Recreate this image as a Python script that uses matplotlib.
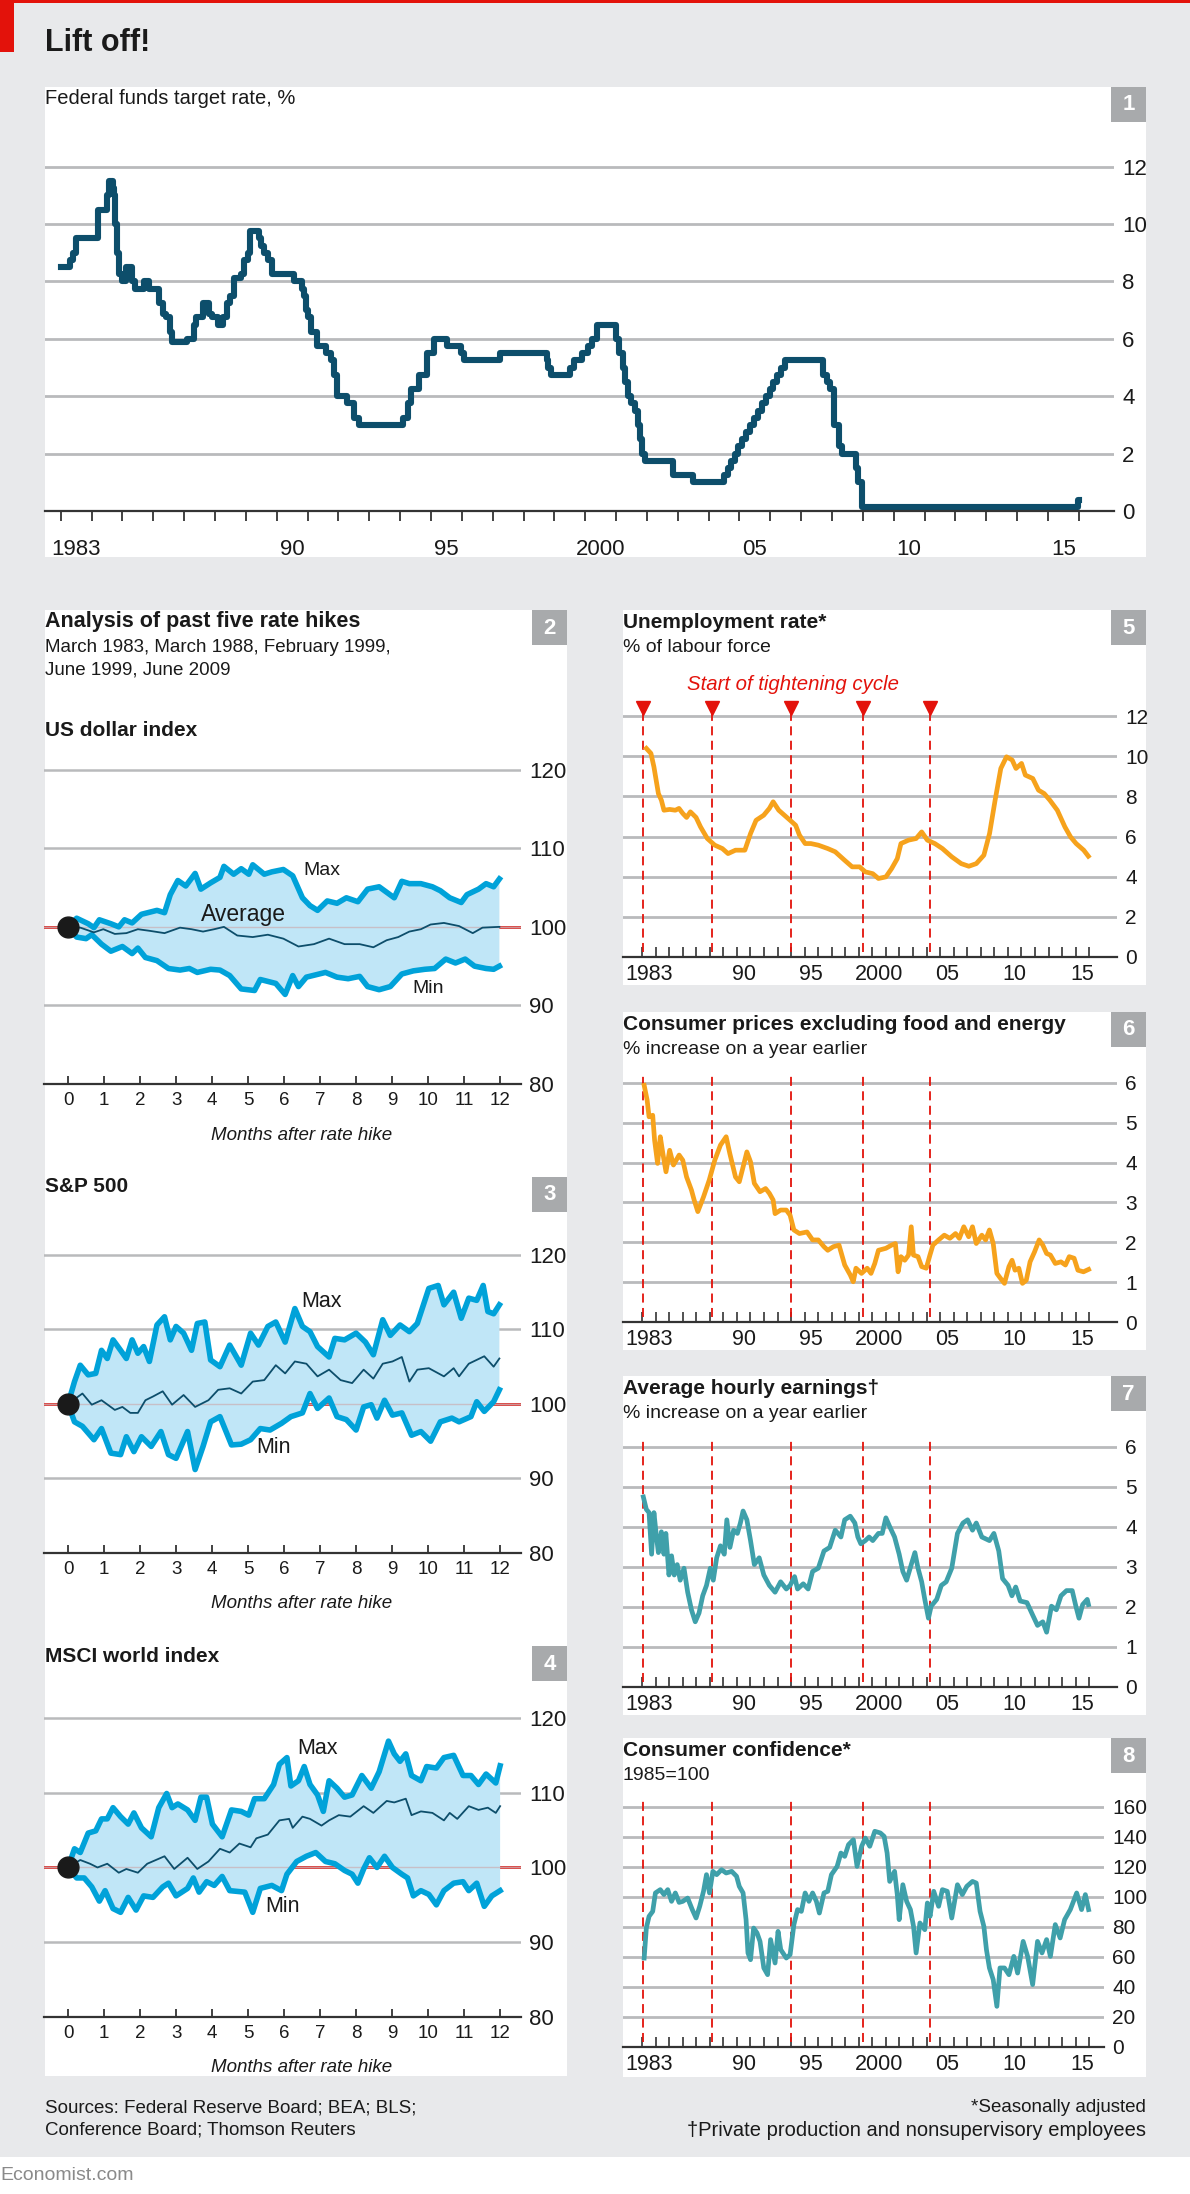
import matplotlib
matplotlib.use("Agg")
import matplotlib.pyplot as plt
from matplotlib.patches import Rectangle
import numpy as np

plt.rcParams['font.family'] = ['Liberation Sans', 'DejaVu Sans']

# ---------------- data ----------------
# panel 1: federal funds target rate, step changes (decimal year, %)
ff_year = [1983.00, 1983.30, 1983.40, 1983.50, 1984.20, 1984.50, 1984.58, 1984.68, 1984.72, 1984.76,
           1984.82, 1984.90, 1984.97, 1985.10, 1985.30, 1985.42, 1985.70, 1985.85, 1986.18, 1986.30,
           1986.40, 1986.55, 1986.62, 1987.10, 1987.33, 1987.40, 1987.60, 1987.80, 1987.90, 1988.10,
           1988.25, 1988.40, 1988.50, 1988.62, 1988.85, 1988.95, 1989.08, 1989.15, 1989.42, 1989.50,
           1989.60, 1989.72, 1989.85, 1990.55, 1990.82, 1990.88, 1990.95, 1991.02, 1991.10, 1991.30,
           1991.60, 1991.75, 1991.85, 1991.95, 1992.28, 1992.50, 1992.68, 1994.08, 1994.25, 1994.35,
           1994.62, 1994.88, 1995.10, 1995.52, 1995.97, 1996.08, 1997.23, 1998.75, 1998.80, 1998.88,
           1999.50, 1999.65, 1999.88, 2000.08, 2000.22, 2000.38, 2001.00, 2001.08, 2001.22, 2001.30,
           2001.38, 2001.48, 2001.60, 2001.70, 2001.78, 2001.85, 2001.95, 2002.85, 2003.48, 2004.50,
           2004.62, 2004.72, 2004.85, 2004.95, 2005.08, 2005.22, 2005.35, 2005.48, 2005.60, 2005.72,
           2005.85, 2005.98, 2006.08, 2006.22, 2006.35, 2006.48, 2007.72, 2007.83, 2007.95, 2008.05,
           2008.08, 2008.22, 2008.33, 2008.77, 2008.83, 2008.96, 2015.96, 2016.00]
ff_rate = [8.50, 8.75, 9.00, 9.50, 10.50, 11.00, 11.50, 11.25, 11.00, 10.00,
           9.00, 8.25, 8.00, 8.50, 8.00, 7.75, 8.00, 7.75, 7.25, 6.875,
           6.75, 6.25, 5.875, 6.00, 6.50, 6.75, 7.25, 6.875, 6.75, 6.50,
           6.75, 7.25, 7.50, 8.125, 8.25, 8.75, 9.00, 9.75, 9.50, 9.25,
           9.00, 8.75, 8.25, 8.00, 7.75, 7.50, 7.00, 6.75, 6.25, 5.75,
           5.50, 5.25, 4.75, 4.00, 3.75, 3.25, 3.00, 3.25, 3.75, 4.25,
           4.75, 5.50, 6.00, 5.75, 5.50, 5.25, 5.50, 5.25, 5.00, 4.75,
           5.00, 5.25, 5.50, 5.75, 6.00, 6.50, 6.00, 5.50, 5.00, 4.50,
           4.00, 3.75, 3.50, 3.00, 2.50, 2.00, 1.75, 1.25, 1.00, 1.25,
           1.50, 1.75, 2.00, 2.25, 2.50, 2.75, 3.00, 3.25, 3.50, 3.75,
           4.00, 4.25, 4.50, 4.75, 5.00, 5.25, 4.75, 4.50, 4.25, 3.50,
           3.00, 2.25, 2.00, 1.50, 1.00, 0.125, 0.375, 0.375]
ff_labels = ["1983", "90", "95", "2000", "05", "10", "15"]
ff_label_years = [1983, 1990, 1995, 2000, 2005, 2010, 2015]

# panels 2-4: months after rate hike, max / min / average of five episodes
usd_max_m = [0.00, 0.24, 0.56, 0.72, 0.87, 1.19, 1.41, 1.57, 1.78, 2.04, 2.47, 2.68, 2.84, 3.05, 3.27,
             3.53, 3.69, 3.96, 4.22, 4.33, 4.60, 4.81, 5.02, 5.13, 5.45, 5.66, 5.98, 6.24, 6.51, 6.72,
             6.93, 7.20, 7.47, 7.73, 8.05, 8.32, 8.64, 8.85, 9.06, 9.27, 9.48, 9.80, 10.12, 10.34,
             10.60, 10.92, 11.08, 11.40, 11.61, 11.82, 11.98]
usd_max_v = [100.0, 101.1, 100.4, 99.9, 100.9, 100.4, 100.0, 100.9, 100.5, 101.6, 102.1, 101.8, 104.1,
             105.9, 105.2, 106.8, 104.8, 105.6, 106.3, 107.7, 106.7, 107.4, 106.7, 107.9, 106.7, 107.0,
             107.3, 106.5, 103.7, 102.7, 102.1, 103.3, 103.0, 103.7, 103.2, 104.8, 105.1, 104.4, 103.7,
             105.8, 105.5, 105.5, 105.1, 104.6, 103.7, 103.1, 104.1, 104.8, 105.5, 105.1, 106.1]
usd_min_m = [0.00, 0.24, 0.50, 0.66, 0.93, 1.19, 1.51, 1.78, 1.94, 2.15, 2.47, 2.79, 3.11, 3.37, 3.59,
             3.96, 4.22, 4.49, 4.81, 5.18, 5.34, 5.77, 6.03, 6.24, 6.40, 6.62, 7.15, 7.47, 7.78, 8.10,
             8.32, 8.64, 8.95, 9.27, 9.59, 9.91, 10.18, 10.49, 10.76, 11.03, 11.29, 11.61, 11.82, 11.98]
usd_min_v = [100.0, 98.7, 98.5, 99.0, 97.8, 96.9, 97.5, 96.6, 97.3, 96.1, 95.7, 94.7, 94.5, 94.7, 94.2,
             94.6, 94.5, 93.8, 92.1, 91.9, 93.3, 92.8, 91.4, 93.8, 92.4, 93.6, 94.2, 93.6, 93.4, 93.7,
             92.4, 92.0, 92.4, 94.0, 94.4, 94.6, 94.7, 95.9, 95.4, 95.9, 95.0, 94.7, 94.6, 95.0]
usd_avg_m = [0.00, 0.34, 0.72, 0.98, 1.30, 1.62, 1.94, 2.26, 2.68, 3.11, 3.43, 3.75, 4.06, 4.33, 4.70,
             5.13, 5.55, 5.98, 6.40, 6.83, 7.25, 7.68, 8.10, 8.48, 8.85, 9.17, 9.48, 9.80, 10.07, 10.44,
             10.86, 11.24, 11.51, 11.98]
usd_avg_v = [100.0, 99.9, 99.3, 99.7, 99.1, 99.2, 99.7, 99.5, 99.2, 99.9, 99.7, 99.4, 99.7, 100.0, 98.9,
             98.7, 99.0, 98.5, 97.5, 97.8, 98.5, 97.8, 97.8, 97.4, 98.3, 98.7, 99.4, 99.7, 100.3, 100.5,
             100.1, 99.2, 99.9, 100.0]

spx_max_m = [0.00, 0.18, 0.34, 0.56, 0.77, 0.93, 1.09, 1.25, 1.46, 1.62, 1.78, 1.94, 2.10, 2.26, 2.47,
             2.68, 2.84, 3.00, 3.21, 3.43, 3.59, 3.80, 3.96, 4.22, 4.49, 4.81, 5.07, 5.29, 5.55, 5.77,
             6.03, 6.30, 6.51, 6.72, 6.93, 7.25, 7.41, 7.68, 8.00, 8.26, 8.48, 8.74, 8.95, 9.22, 9.48,
             9.70, 10.02, 10.28, 10.44, 10.71, 10.92, 11.13, 11.35, 11.53, 11.66, 11.82, 11.98]
spx_max_v = [100.0, 103.0, 105.2, 103.9, 104.1, 107.2, 106.1, 108.6, 107.2, 106.1, 108.6, 106.8, 107.7,
             105.7, 110.6, 111.7, 108.6, 110.4, 109.5, 107.2, 110.8, 111.0, 105.9, 105.0, 107.9, 105.2,
             109.5, 107.9, 110.4, 111.0, 108.3, 112.8, 110.4, 109.7, 107.7, 106.3, 108.8, 108.6, 109.5,
             108.3, 106.6, 111.3, 109.2, 110.6, 109.7, 110.8, 115.5, 115.9, 113.3, 115.0, 111.5, 114.2,
             113.9, 115.9, 112.4, 112.1, 113.3]
spx_min_m = [0.00, 0.18, 0.40, 0.72, 0.93, 1.19, 1.46, 1.62, 1.83, 2.04, 2.31, 2.58, 2.79, 3.00, 3.16,
             3.32, 3.53, 3.75, 3.96, 4.22, 4.54, 4.81, 5.07, 5.34, 5.61, 5.93, 6.19, 6.51, 6.72, 6.93,
             7.25, 7.47, 7.73, 8.00, 8.21, 8.42, 8.58, 8.79, 9.01, 9.27, 9.54, 9.80, 10.07, 10.34, 10.66,
             10.86, 11.19, 11.35, 11.56, 11.82, 11.98]
spx_min_v = [100.0, 97.6, 97.0, 95.2, 96.7, 93.4, 93.2, 95.6, 93.6, 95.6, 94.3, 96.3, 93.2, 92.7, 94.5,
             96.3, 91.2, 94.3, 97.6, 98.3, 94.5, 94.6, 95.2, 96.7, 96.5, 97.4, 98.3, 98.8, 101.4, 99.4,
             100.8, 98.3, 97.9, 96.5, 99.6, 99.9, 98.1, 100.5, 98.5, 98.8, 95.8, 96.3, 95.0, 97.6, 98.1,
             97.6, 98.3, 100.3, 99.0, 100.3, 101.9]
spx_avg_m = [0.00, 0.40, 0.66, 0.93, 1.30, 1.51, 1.73, 1.94, 2.15, 2.36, 2.63, 2.89, 3.21, 3.53, 3.90,
             4.17, 4.49, 4.81, 5.13, 5.45, 5.77, 6.03, 6.30, 6.62, 6.93, 7.25, 7.57, 7.89, 8.21, 8.48,
             8.74, 9.01, 9.27, 9.48, 9.70, 10.02, 10.44, 10.71, 10.86, 11.13, 11.56, 11.82, 11.98]
spx_avg_v = [100.0, 101.4, 99.9, 100.5, 99.2, 99.6, 98.8, 98.8, 100.5, 101.0, 101.7, 99.9, 101.2, 99.6,
             100.5, 101.9, 102.1, 101.4, 103.0, 103.2, 105.2, 104.1, 105.7, 105.4, 103.7, 104.6, 103.2,
             102.8, 104.6, 103.4, 105.4, 105.7, 106.3, 103.0, 104.6, 104.8, 103.7, 104.8, 103.7, 105.4,
             106.4, 105.0, 106.1]

msci_max_m = [0.00, 0.18, 0.34, 0.56, 0.77, 0.93, 1.09, 1.25, 1.46, 1.67, 1.83, 2.04, 2.31, 2.52, 2.74,
              2.89, 3.05, 3.32, 3.53, 3.69, 3.85, 4.01, 4.28, 4.54, 4.81, 5.02, 5.18, 5.45, 5.71, 5.87,
              6.08, 6.19, 6.40, 6.56, 6.72, 6.93, 7.09, 7.25, 7.47, 7.68, 7.89, 8.16, 8.42, 8.64, 8.90,
              9.06, 9.22, 9.38, 9.54, 9.80, 9.96, 10.23, 10.44, 10.71, 10.97, 11.19, 11.40, 11.61, 11.88,
              12.00]
msci_max_v = [100.0, 102.5, 102.0, 104.6, 104.9, 106.5, 106.5, 108.0, 106.8, 105.8, 107.3, 105.3, 104.1,
              108.0, 109.9, 108.0, 108.5, 107.7, 106.3, 109.4, 109.4, 105.8, 104.1, 107.7, 107.5, 107.0,
              109.2, 109.2, 111.1, 113.8, 114.7, 110.9, 111.6, 113.5, 111.1, 109.7, 107.5, 111.6, 110.6,
              109.4, 109.7, 112.3, 110.6, 112.8, 116.9, 115.2, 114.2, 115.2, 112.3, 111.6, 113.5, 113.3,
              114.7, 115.0, 112.3, 112.3, 111.1, 112.5, 111.3, 113.6]
msci_min_m = [0.00, 0.24, 0.45, 0.66, 0.87, 1.03, 1.25, 1.46, 1.67, 1.89, 2.10, 2.36, 2.63, 2.79, 3.00,
              3.32, 3.48, 3.64, 3.85, 4.06, 4.28, 4.49, 4.91, 5.13, 5.34, 5.66, 5.93, 6.08, 6.35, 6.62,
              6.88, 7.15, 7.41, 7.68, 7.89, 8.05, 8.21, 8.37, 8.58, 8.79, 9.01, 9.27, 9.43, 9.59, 9.80,
              10.02, 10.23, 10.44, 10.71, 10.97, 11.13, 11.35, 11.56, 11.77, 12.00]
msci_min_v = [100.0, 98.6, 98.6, 97.4, 95.5, 96.9, 94.5, 94.0, 96.0, 94.3, 96.2, 96.0, 97.4, 97.9, 96.2,
              97.2, 98.6, 96.7, 98.1, 97.6, 98.8, 96.9, 96.7, 94.0, 97.2, 97.6, 96.9, 99.1, 100.8, 101.5,
              102.0, 100.8, 100.5, 99.6, 99.1, 97.9, 99.8, 101.3, 100.0, 101.5, 100.0, 99.1, 98.6, 96.2,
              96.9, 96.4, 95.0, 96.9, 97.9, 98.1, 96.9, 97.9, 94.8, 96.2, 96.9]
msci_avg_m = [0.00, 0.34, 0.61, 0.82, 1.09, 1.41, 1.62, 1.94, 2.20, 2.68, 2.95, 3.32, 3.59, 3.90, 4.22,
              4.49, 4.76, 5.07, 5.23, 5.55, 5.87, 6.14, 6.24, 6.51, 6.72, 7.04, 7.25, 7.52, 7.84, 8.21,
              8.48, 8.85, 9.06, 9.38, 9.54, 9.80, 10.12, 10.44, 10.60, 10.81, 11.13, 11.40, 11.66, 11.88,
              12.00]
msci_avg_v = [100.0, 101.0, 100.5, 100.0, 100.5, 99.3, 99.8, 99.3, 100.5, 101.5, 99.8, 101.3, 99.8, 100.8,
              102.5, 102.0, 103.2, 102.7, 103.9, 104.4, 106.3, 106.5, 105.3, 106.8, 106.5, 105.6, 106.3,
              107.0, 106.8, 108.2, 107.3, 108.9, 108.7, 109.2, 107.0, 107.5, 107.3, 106.3, 107.3, 106.5,
              108.2, 107.7, 108.0, 107.3, 108.2]

month_ticks = list(range(13))

# panels 5-8
tightening = [1983.04, 1988.15, 1993.98, 1999.31, 2004.28]
yr_labels = ["1983", "90", "95", "2000", "05", "10", "15"]
yr_label_years = [1983, 1990, 1995, 2000, 2005, 2010, 2015]

unemp_x = [1983.32, 1983.66, 1983.88, 1984.21, 1984.43, 1984.62, 1985.04, 1985.46, 1985.73, 1986.01,
           1986.29, 1986.57, 1986.99, 1987.32, 1987.82, 1988.37, 1988.93, 1989.35, 1989.90, 1990.59,
           1991.01, 1991.42, 1991.98, 1992.40, 1992.68, 1993.09, 1993.51, 1993.93, 1994.34, 1994.62,
           1995.04, 1995.46, 1996.01, 1996.71, 1997.26, 1997.95, 1998.51, 1999.06, 1999.48, 2000.03,
           2000.45, 2001.00, 2001.42, 2001.84, 2002.11, 2002.67, 2003.23, 2003.64, 2004.06, 2004.61,
           2005.17, 2005.86, 2006.56, 2007.12, 2007.67, 2008.23, 2008.65, 2009.06, 2009.48, 2009.90,
           2010.32, 2010.60, 2011.01, 2011.29, 2011.84, 2012.26, 2012.68, 2013.10, 2013.65, 2014.21,
           2014.63, 2015.04, 2015.60, 2015.94]
unemp_y = [10.39, 10.14, 9.47, 8.14, 7.81, 7.31, 7.35, 7.31, 7.40, 7.15,
           6.95, 7.23, 6.95, 6.48, 5.90, 5.57, 5.40, 5.15, 5.32, 5.32,
           6.15, 6.81, 7.06, 7.40, 7.73, 7.31, 7.06, 6.81, 6.56, 6.07,
           5.65, 5.65, 5.57, 5.40, 5.24, 4.82, 4.49, 4.49, 4.24, 4.15,
           3.91, 3.99, 4.40, 4.90, 5.65, 5.82, 5.90, 6.23, 5.82, 5.65,
           5.40, 4.99, 4.65, 4.52, 4.65, 5.07, 6.15, 7.81, 9.39, 9.97,
           9.81, 9.39, 9.64, 9.06, 8.89, 8.31, 8.14, 7.81, 7.31, 6.48,
           5.98, 5.65, 5.32, 5.02]

cpi_x = [1983.16, 1983.38, 1983.52, 1983.79, 1983.93, 1984.15, 1984.35, 1984.54, 1984.77, 1985.04,
         1985.32, 1985.74, 1986.01, 1986.29, 1986.65, 1986.85, 1987.12, 1987.54, 1987.96, 1988.37,
         1988.79, 1989.21, 1989.48, 1989.90, 1990.18, 1990.46, 1990.74, 1991.01, 1991.29, 1991.71,
         1992.12, 1992.40, 1992.68, 1992.82, 1993.23, 1993.65, 1993.93, 1994.21, 1994.62, 1995.18,
         1995.59, 1996.01, 1996.43, 1996.71, 1997.12, 1997.54, 1997.96, 1998.37, 1998.59, 1998.79,
         1999.20, 1999.62, 1999.90, 2000.18, 2000.45, 2001.00, 2001.42, 2001.70, 2001.90, 2002.11,
         2002.39, 2002.67, 2002.87, 2003.03, 2003.37, 2003.64, 2003.98, 2004.25, 2004.47, 2004.89,
         2005.31, 2005.72, 2006.14, 2006.42, 2006.75, 2007.11, 2007.39, 2007.67, 2008.08, 2008.36,
         2008.64, 2008.92, 2009.19, 2009.47, 2009.75, 2010.08, 2010.31, 2010.53, 2010.81, 2011.08,
         2011.36, 2011.64, 2011.97, 2012.31, 2012.58, 2012.86, 2013.14, 2013.50, 2013.92, 2014.25,
         2014.53, 2014.89, 2015.17, 2015.58, 2015.96]
cpi_y = [5.94, 5.57, 5.15, 5.19, 4.56, 3.98, 4.65, 4.23, 3.77, 4.31,
         3.94, 4.19, 4.06, 3.64, 3.31, 3.06, 2.77, 3.14, 3.56, 4.06,
         4.44, 4.65, 4.23, 3.64, 3.52, 3.89, 4.27, 4.02, 3.48, 3.27,
         3.35, 3.23, 3.06, 2.72, 2.81, 2.81, 2.68, 2.31, 2.22, 2.26,
         2.06, 2.06, 1.89, 1.80, 1.89, 1.93, 1.43, 1.18, 1.01, 1.35,
         1.22, 1.35, 1.22, 1.47, 1.80, 1.85, 1.93, 1.97, 1.26, 1.64,
         1.55, 1.68, 2.39, 1.68, 1.64, 1.39, 1.35, 1.68, 1.93, 2.06,
         2.18, 2.10, 2.22, 2.10, 2.39, 2.14, 2.39, 1.97, 2.18, 2.06,
         2.31, 1.97, 1.22, 1.09, 0.97, 1.39, 1.55, 1.30, 1.35, 0.97,
         1.05, 1.51, 1.76, 2.06, 1.93, 1.72, 1.68, 1.47, 1.51, 1.43,
         1.64, 1.60, 1.30, 1.26, 1.32]

ahe_x = [1983.10, 1983.32, 1983.52, 1983.71, 1983.88, 1984.07, 1984.21, 1984.43, 1984.62, 1984.76,
         1984.99, 1985.18, 1985.38, 1985.60, 1985.82, 1986.10, 1986.37, 1986.65, 1986.93, 1987.21,
         1987.48, 1987.76, 1988.04, 1988.26, 1988.51, 1988.79, 1989.07, 1989.26, 1989.49, 1989.76,
         1990.04, 1990.26, 1990.46, 1990.74, 1991.01, 1991.29, 1991.65, 1991.99, 1992.40, 1992.82,
         1993.23, 1993.65, 1993.93, 1994.26, 1994.48, 1994.90, 1995.26, 1995.59, 1996.01, 1996.43,
         1996.85, 1997.26, 1997.68, 1997.96, 1998.37, 1998.71, 1998.93, 1999.15, 1999.48, 1999.76,
         2000.03, 2000.45, 2000.73, 2001.00, 2001.28, 2001.64, 2001.98, 2002.25, 2002.53, 2002.87,
         2003.14, 2003.37, 2003.64, 2003.87, 2004.14, 2004.34, 2004.75, 2005.09, 2005.45, 2005.86,
         2006.28, 2006.69, 2007.03, 2007.39, 2007.67, 2008.08, 2008.64, 2008.97, 2009.33, 2009.61,
         2010.02, 2010.30, 2010.58, 2010.91, 2011.41, 2011.83, 2012.19, 2012.58, 2012.86, 2013.22,
         2013.58, 2013.92, 2014.33, 2014.75, 2015.02, 2015.25, 2015.52, 2015.86, 2015.95]
ahe_y = [4.75, 4.44, 4.36, 3.32, 4.36, 3.75, 3.36, 3.88, 3.32, 3.84,
         2.80, 3.28, 2.80, 3.06, 2.67, 2.97, 2.37, 1.93, 1.63, 1.85,
         2.28, 2.54, 2.97, 2.67, 3.23, 3.53, 3.32, 4.18, 3.49, 3.92,
         3.84, 4.10, 4.40, 4.18, 3.66, 3.06, 3.23, 2.80, 2.54, 2.37,
         2.63, 2.45, 2.54, 2.76, 2.45, 2.58, 2.45, 2.89, 2.97, 3.40,
         3.49, 3.92, 3.75, 4.18, 4.27, 4.10, 3.75, 3.58, 3.66, 3.75,
         3.66, 3.84, 3.84, 4.23, 4.01, 3.75, 3.32, 2.89, 2.67, 3.06,
         3.36, 2.97, 2.63, 2.19, 1.72, 2.02, 2.19, 2.54, 2.63, 2.97,
         3.84, 4.10, 4.18, 3.92, 4.10, 3.75, 3.66, 3.84, 3.40, 2.71,
         2.54, 2.28, 2.50, 2.15, 2.11, 1.80, 1.54, 1.63, 1.37, 2.02,
         1.93, 2.28, 2.41, 2.41, 2.02, 1.72, 2.06, 2.19, 2.06]

conf_x = [1983.16, 1983.32, 1983.52, 1983.79, 1983.99, 1984.35, 1984.62, 1984.90, 1985.18, 1985.46,
          1985.74, 1986.01, 1986.37, 1986.71, 1986.99, 1987.26, 1987.54, 1987.76, 1987.98, 1988.23,
          1988.51, 1988.87, 1989.21, 1989.62, 1989.98, 1990.18, 1990.46, 1990.68, 1990.82, 1991.01,
          1991.24, 1991.49, 1991.71, 1991.99, 1992.27, 1992.49, 1992.82, 1993.04, 1993.24, 1993.65,
          1993.93, 1994.21, 1994.48, 1994.76, 1995.04, 1995.32, 1995.59, 1995.87, 1996.09, 1996.43,
          1996.71, 1996.98, 1997.40, 1997.68, 1997.96, 1998.24, 1998.60, 1998.87, 1999.21, 1999.48,
          1999.81, 2000.18, 2000.59, 2000.87, 2001.09, 2001.28, 2001.64, 2001.84, 2001.98, 2002.25,
          2002.53, 2002.81, 2003.04, 2003.23, 2003.51, 2003.87, 2004.06, 2004.26, 2004.53, 2004.89,
          2005.17, 2005.53, 2005.86, 2006.28, 2006.64, 2006.97, 2007.39, 2007.67, 2007.95, 2008.23,
          2008.42, 2008.64, 2008.92, 2009.19, 2009.42, 2009.75, 2010.08, 2010.44, 2010.72, 2011.13,
          2011.46, 2011.83, 2012.19, 2012.52, 2012.86, 2013.14, 2013.50, 2013.86, 2014.19, 2014.61,
          2015.08, 2015.44, 2015.72, 2015.96]
conf_y = [59.3, 79.3, 87.1, 90.4, 102.7, 104.9, 101.6, 104.9, 97.1, 102.7,
          96.4, 97.1, 99.3, 91.6, 86.0, 93.8, 103.8, 114.9, 102.7, 117.1,
          114.9, 118.2, 116.0, 117.1, 113.8, 107.1, 102.7, 84.9, 62.7, 58.2,
          79.3, 76.0, 70.4, 52.7, 48.2, 71.6, 56.0, 77.1, 64.9, 59.3,
          61.6, 81.6, 91.6, 90.4, 102.7, 97.1, 102.7, 97.1, 89.3, 102.7,
          103.8, 114.9, 120.4, 129.3, 127.1, 134.9, 138.2, 120.4, 133.8, 139.3,
          133.8, 143.8, 142.7, 140.4, 129.3, 110.4, 117.1, 101.6, 84.9, 108.2,
          97.1, 91.6, 80.4, 62.7, 82.7, 78.2, 96.0, 87.1, 103.8, 93.8,
          104.9, 103.8, 86.0, 108.2, 101.6, 107.1, 110.4, 109.3, 90.4, 80.4,
          64.9, 52.7, 44.9, 27.1, 52.7, 52.7, 48.2, 60.4, 49.3, 70.4,
          60.4, 41.6, 70.4, 62.7, 71.6, 60.4, 81.6, 72.7, 84.9, 91.6,
          102.7, 91.6, 101.6, 91.6]

# ---------------- style ----------------
BG = '#e8e9eb'
RED = '#e3120b'
GRID = '#b9babc'
AXIS = '#333333'
TXT = '#1a1a1a'
NAVY = '#0d4e6b'
BLUE = '#00a2d9'
FILL = '#c0e6f7'
ORANGE = '#f6a21c'
TEAL = '#3fa0aa'
BOXGREY = '#a8aaac'

W, H = 1190, 2194
fig = plt.figure(figsize=(W / 100, H / 100), dpi=100)
fig.patch.set_facecolor(BG)


def px_rect(x0, y0, x1, y1, color, z=-10):
    fig.add_artist(Rectangle((x0 / W, 1 - y1 / H), (x1 - x0) / W, (y1 - y0) / H,
                             transform=fig.transFigure, facecolor=color, edgecolor='none', zorder=z))


def px_text(x, y, s, **kw):
    kw.setdefault('va', 'center')
    kw.setdefault('color', TXT)
    fig.text(x / W, 1 - y / H, s, **kw)


def px_axes(x0, y0, x1, y1):
    ax = fig.add_axes([x0 / W, 1 - y1 / H, (x1 - x0) / W, (y1 - y0) / H])
    ax.patch.set_visible(False)
    for s in ['top', 'left', 'right']:
        ax.spines[s].set_visible(False)
    ax.spines['bottom'].set_color(AXIS)
    ax.spines['bottom'].set_linewidth(1.6)
    ax.spines['bottom'].set_zorder(6)
    ax.yaxis.tick_right()
    ax.tick_params(axis='y', length=0, pad=6, labelsize=16, colors=TXT)
    ax.grid(axis='y', color=GRID, linewidth=2.0, zorder=0)
    ax.set_axisbelow(True)
    return ax


def num_box(x1, y0, n):
    px_rect(x1 - 35, y0, x1, y0 + 35, BOXGREY, z=-5)
    px_text(x1 - 17.5, y0 + 18, n, ha='center', fontsize=16, fontweight='bold', color='white')


# top decoration
px_rect(0, 0, W, 3, RED)
px_rect(0, 0, 14, 52, RED)
px_text(45, 43, "Lift off!", fontsize=22, fontweight='bold')

# ---------------- panel 1 ----------------
px_rect(45, 87, 1146, 557, 'white')
num_box(1146, 87, "1")
px_text(45, 98, "Federal funds target rate, %", fontsize=14.5)
ax1 = px_axes(45, 138, 1114, 511)
ax1.step(ff_year, ff_rate, where='post', color=NAVY, linewidth=4.4, zorder=3)
ax1.set_xlim(1982.49, 2017.14)
ax1.set_ylim(0, 13)
ax1.set_yticks(range(0, 13, 2))
ax1.set_xticks(np.arange(1983, 2017))
ax1.set_xticklabels([])
ax1.set_xticks([y + 0.5 for y in ff_label_years], minor=True)
ax1.set_xticklabels(ff_labels, minor=True)
ax1.tick_params(axis='x', which='major', direction='out', length=7, width=1.3, color=AXIS)
ax1.tick_params(axis='x', which='minor', length=0, pad=20, labelsize=16, colors=TXT)

# ---------------- panels 2-4 ----------------
px_rect(45, 610, 567, 2076, 'white')
px_text(45, 621, "Analysis of past five rate hikes", fontsize=15.5, fontweight='bold')
px_text(45, 648, "March 1983, March 1988, February 1999,", fontsize=13.5)
px_text(45, 670, "June 1999, June 2009", fontsize=13.5)

hike_panels = [
    # title, title y, box y, axes top, baseline, box no, series, in-chart labels
    ("US dollar index", 730, 610, 754, 1084, "2",
     (usd_max_m, usd_max_v, usd_min_m, usd_min_v, usd_avg_m, usd_avg_v),
     [("Max", 7.04, 107.2, 14), ("Average", 4.86, 101.6, 16.5), ("Min", 10.0, 92.2, 14)]),
    ("S&P 500", 1186, 1177, 1240, 1553, "3",
     (spx_max_m, spx_max_v, spx_min_m, spx_min_v, spx_avg_m, spx_avg_v),
     [("Max", 7.04, 113.7, 15.5), ("Min", 5.71, 94.2, 15.5)]),
    ("MSCI world index", 1656, 1646, 1703, 2017, "4",
     (msci_max_m, msci_max_v, msci_min_m, msci_min_v, msci_avg_m, msci_avg_v),
     [("Max", 6.94, 115.9, 15.5), ("Min", 5.96, 94.8, 15.5)]),
]

for title, ty, by, top, base, n, series, labels in hike_panels:
    mx, my, nx, ny, axx, avy = series
    px_text(45, ty, title, fontsize=15, fontweight='bold')
    num_box(567, by, n)
    ax = px_axes(44, top, 521, base)
    ax.set_xlim(-0.667, 12.58)
    ax.set_ylim(80, 122)
    ax.set_yticks([80, 90, 100, 110, 120])
    ax.grid(axis='y', color=GRID, linewidth=1.8, zorder=0)
    ax.axhline(100, color=RED, linewidth=1.8, zorder=1)
    ax.fill(list(mx) + list(nx[::-1]), list(my) + list(ny[::-1]), color=FILL, zorder=2, linewidth=0)
    ax.axhline(100, color='#c9b6bb', linewidth=1.0, zorder=2.5, alpha=0.8)
    ax.plot(mx, my, color=BLUE, linewidth=4, zorder=3, solid_joinstyle='round')
    ax.plot(nx, ny, color=BLUE, linewidth=4, zorder=3, solid_joinstyle='round')
    ax.plot(axx, avy, color=NAVY, linewidth=1.3, zorder=4)
    ax.plot([0], [100], 'o', color='#1a1a1a', markersize=15, zorder=5, clip_on=False)
    for s, lx, ly, fs in labels:
        ax.text(lx, ly, s, ha='center', va='center', fontsize=fs, color=TXT, zorder=6)
    ax.set_xticks(month_ticks)
    ax.tick_params(axis='x', direction='in', length=6, width=1.3, color=AXIS,
                   labelsize=13.5, pad=6, labelcolor=TXT)
    px_text(302, base + 51, "Months after rate hike", fontsize=13.5, style='italic', ha='center')

px_text(45, 2108, "Sources: Federal Reserve Board; BEA; BLS;", fontsize=13.5)
px_text(45, 2130, "Conference Board; Thomson Reuters", fontsize=13.5)
px_rect(0, 2157, W, H, 'white')
px_text(0, 2176, "Economist.com", fontsize=14, color='#8a8a8a')

# ---------------- panels 5-8 ----------------
PX_YEAR = 13.55
right_panels = [
    # title, subtitle, box no, bg top, bg bottom, axes top, baseline, right edge, ymax, ticks, data, colour
    ("Unemployment rate*", "% of labour force", "5", 610, 985, 702, 957, 1117, 12.7,
     range(0, 13, 2), unemp_x, unemp_y, ORANGE),
    ("Consumer prices excluding food and energy", "% increase on a year earlier", "6", 1012, 1350,
     1071, 1322, 1117, 6.3, range(0, 7), cpi_x, cpi_y, ORANGE),
    ("Average hourly earnings\u2020", "% increase on a year earlier", "7", 1376, 1715,
     1435, 1687, 1117, 6.3, range(0, 7), ahe_x, ahe_y, TEAL),
    ("Consumer confidence*", "1985=100", "8", 1738, 2077, 1795, 2047, 1104, 168,
     range(0, 161, 20), conf_x, conf_y, TEAL),
]

for i, (title, sub, n, bt, bb, top, base, right, ymax, ticks, xs, ys, col) in enumerate(right_panels):
    px_rect(623, bt, 1146, bb, 'white')
    num_box(1146, bt, n)
    px_text(623, bt + 12, title, fontsize=15, fontweight='bold')
    px_text(623, bt + 38, sub, fontsize=14)
    ax = px_axes(623, top, right, base)
    ax.set_xlim(1983 - (642 - 623) / PX_YEAR, 1983 + (right - 642) / PX_YEAR)
    ax.set_ylim(0, ymax)
    ax.set_yticks(list(ticks))
    ax.tick_params(axis='y', labelsize=15)
    ax.plot(xs, ys, color=col, linewidth=3.4, zorder=4, solid_joinstyle='round')
    top_val = ymax * 0.985 if i == 0 else ymax * 0.99
    ax.vlines(tightening, ymax * 0.02, top_val, colors=RED, linestyles=(0, (5, 3)),
              linewidth=1.3, zorder=3)
    if i == 0:
        ax.plot(tightening, [12.4] * len(tightening), 'v', color=RED, markersize=10,
                clip_on=False, zorder=5)
        px_text(687, 685, "Start of tightening cycle", fontsize=14.7, style='italic', color=RED)
    ax.set_xticks(np.arange(1983, 2017))
    ax.set_xticklabels([])
    ax.set_xticks([y + 0.5 for y in yr_label_years], minor=True)
    ax.set_xticklabels(yr_labels, minor=True)
    ax.tick_params(axis='x', which='major', direction='in', length=7, width=1.2, color=AXIS)
    ax.tick_params(axis='x', which='minor', length=0, pad=5, labelsize=15.5, labelcolor=TXT)

px_text(1146, 2107, "*Seasonally adjusted", fontsize=13.5, ha='right')
px_text(1146, 2130, "\u2020Private production and nonsupervisory employees", fontsize=14.5, ha='right')

fig.savefig("out.png", dpi=100, facecolor=BG)
